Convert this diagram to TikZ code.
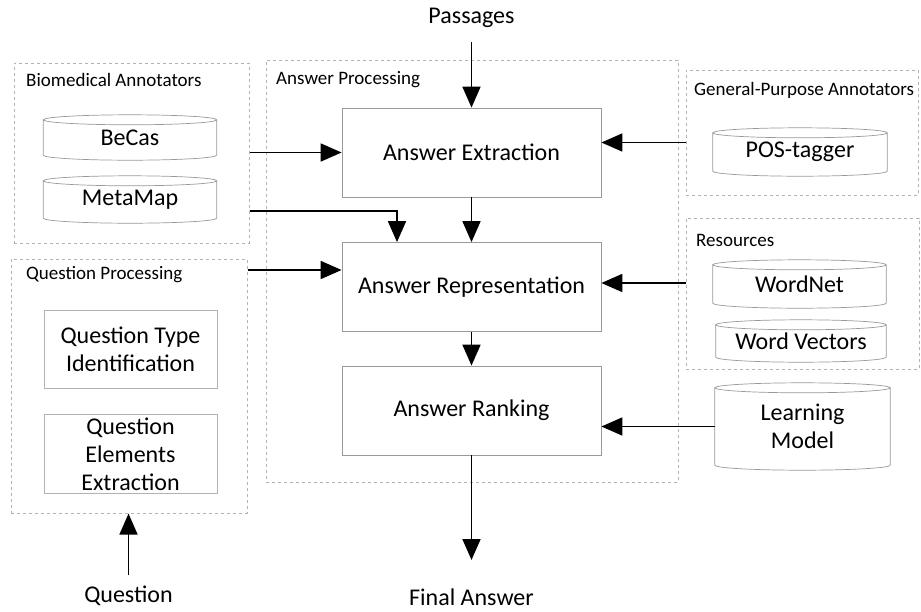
\documentclass[tikz,border=0pt]{standalone}
\usepackage{fontspec}
\setmainfont{Carlito}
\usepackage{tikz}
\usetikzlibrary{arrows.meta, positioning, calc}
\tikzstyle{block} = [rectangle, draw=gray!80, line width=0.8pt, minimum width=259pt, minimum height=89pt, align=center, font=\fontsize{24}{28}\selectfont]
\tikzstyle{qblock} = [rectangle, draw=gray!60, line width=0.8pt, minimum width=173pt, minimum height=78pt, align=center, font=\fontsize{24}{28}\selectfont]
\tikzstyle{db} = [rectangle, minimum width=173pt, minimum height=46pt, align=center, font=\fontsize{24}{28}\selectfont]
\tikzstyle{dbline} = [draw=gray!80, line width=0.7pt]
\tikzstyle{group} = [rectangle, draw=gray!60, dashed, line width=0.6pt, anchor=north west]
\tikzstyle{grouplabel} = [anchor=west, inner sep=0pt, font=\fontsize{19}{20}\selectfont]
\tikzstyle{io} = [inner sep=0pt, font=\fontsize{24}{28}\selectfont]
\tikzstyle{arrow} = [line width=1.8pt, -{Triangle[length=21pt,width=18pt]}]
% cylinder outline round a db node
\newcommand{\drawdb}[1]{%
  \draw[dbline] let \p1=(#1.north west), \p2=(#1.south east), \n1={0.5*(\x2-\x1)} in
    (\x1,\y1-5pt) arc[start angle=180, end angle=-180, x radius=\n1, y radius=5pt]
    -- (\x1,\y2+5pt) arc[start angle=180, end angle=360, x radius=\n1, y radius=5pt]
    -- (\x2,\y1-5pt);}

\begin{document}
\begin{tikzpicture}[x=1pt, y=-1pt]
\useasboundingbox[fill=white] (0,0) rectangle (921,611);

% groups
\node (bio) [group, minimum width=235pt, minimum height=180pt] at (14,63) {};
\node (ap) [group, minimum width=412pt, minimum height=422pt] at (266,60) {};
\node (qp) [group, minimum width=236pt, minimum height=254pt] at (11,259) {};
\node (gen) [group, minimum width=232pt, minimum height=125pt] at (686,70) {};
\node (res) [group, minimum width=233pt, minimum height=151pt] at (686,218) {};

\node (biolab) [grouplabel] at (26,80) {Biomedical Annotators};
\node (aplab) [grouplabel] at (276,80) {Answer Processing};
\node (qplab) [grouplabel] at (26,275) {Question Processing};
\node (genlab) [grouplabel] at (694,90) {General-Purpose Annotators};
\node (reslab) [grouplabel] at (696,240) {Resources};

% answer processing
\node (ae) [block] at (471.5,152.5) {Answer Extraction};
\node (ar) [block] at (471.5,287) {Answer Representation};
\node (ark) [block] at (471.5,410.5) {Answer Ranking};

% question processing
\node (qt) [qblock] at (130.5,349) {Question Type\\Identification};
\node (qe) [qblock] at (130.5,454) {Question\\Elements\\Extraction};

% resources
\node (becas) [db, minimum height=45pt] at (130,137.5) {BeCas};
\node (metamap) [db, minimum height=47pt] at (130,199.5) {MetaMap};
\node (pos) [db, minimum width=174pt, minimum height=48pt] at (800,152) {POS-tagger};
\node (wordnet) [db, minimum height=48pt] at (799.5,284) {WordNet};
\node (wvec) [db, minimum width=170pt, minimum height=42pt] at (801,341) {Word Vectors};
\node (lm) [db, minimum width=175pt, minimum height=87pt] at (802.5,426.5) {Learning\\Model};
\drawdb{becas}
\drawdb{metamap}
\drawdb{pos}
\drawdb{wordnet}
\drawdb{wvec}
\drawdb{lm}

% inputs and outputs
\node (passages) [io] at (471.5,18) {Passages};
\node (final) [io] at (471.5,597) {Final Answer};
\node (question) [io] at (128.5,596) {Question};
\coordinate (qin) at (128.5,575);
\coordinate (fout) at (471.5,560);
\coordinate (pin) at (471.5,42);

\draw [arrow] (pin) -- (ae);
\draw [arrow] (ae) -- (ar);
\draw [arrow] (ar) -- (ark);
\draw [arrow] (ark) -- (fout);
\draw [arrow] (qin) -- (qp.south -| qin);

\draw [arrow] (bio.east |- ae.west) -- (ae.west);
\draw [arrow] ([yshift=-11.5pt]bio.east |- metamap.center) -| ([xshift=-74.5pt]ar.north);
\draw [arrow] ([yshift=-11pt]qp.north east) -- ([yshift=-11pt]qp.north east -| ar.west);
\draw [arrow] ([yshift=10pt]gen.west |- ae.east) -- ([yshift=10pt]ae.east);
\draw [arrow] ([yshift=4pt]res.west |- ar.east) -- ([yshift=4pt]ar.east);
\draw [arrow] (lm.west) -- (lm.west -| ark.east);
\end{tikzpicture}
\end{document}
